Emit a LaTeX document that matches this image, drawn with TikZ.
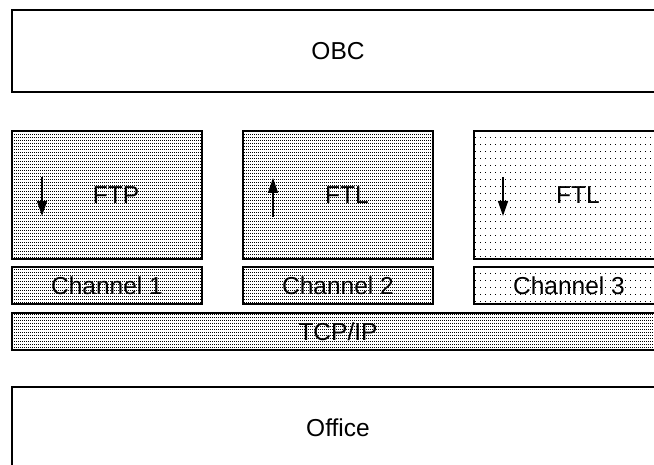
\documentclass[tikz,border=0pt]{standalone}
\usepackage{fontspec}
\setmainfont{Liberation Sans}
\usetikzlibrary{patterns.meta, arrows.meta}

\pgfdeclarepattern{
  name=densedots, type=uncolored,
  bottom left={\pgfpoint{0pt}{0pt}}, top right={\pgfpoint{2pt}{3pt}},
  tile size={\pgfpoint{2pt}{3pt}},
  code={\pgfpathrectangle{\pgfpointorigin}{\pgfpoint{1.2pt}{1.1pt}}\pgfusepath{fill}}}
\pgfdeclarepattern{
  name=sparsedots, type=uncolored,
  bottom left={\pgfpoint{0pt}{0pt}}, top right={\pgfpoint{5pt}{6.5pt}},
  tile size={\pgfpoint{5pt}{6.5pt}},
  code={\pgfpathrectangle{\pgfpointorigin}{\pgfpoint{1pt}{1pt}}\pgfusepath{fill}}}

\begin{document}
\begin{tikzpicture}[x=1pt,y=-1pt]
	\tikzset{block/.style={draw=black, line width=1.4pt, inner sep=0pt, font=\fontsize{24.5}{28}\selectfont}}
	\tikzset{dense/.style={block, pattern=densedots}}
	\tikzset{sparse/.style={block, pattern=sparsedots}}
	\tikzset{flow/.style={-{Triangle[length=15pt,width=10pt]}, line width=1.4pt}}
		\useasboundingbox (0,0) rectangle (654,465);
		\clip (0,0) rectangle (654,465);
		\node[block, minimum width=652pt, minimum height=82pt] (obc) at (338,51) {OBC};
		\foreach \name/\x/\tag in {ftp/107/FTP, ftlup/338/FTL}
		{\node[dense, minimum width=190pt, minimum height=128pt] (\name) at (\x,195) {\hspace*{18pt}\tag};}
		\node[sparse, minimum width=190pt, minimum height=128pt] (ftldown) at (569,195) {\hspace*{18pt}FTL};
		\foreach \name/\x/\tag in {ch1/107/Channel 1, ch2/338/Channel 2}
		{\node[dense, minimum width=190pt, minimum height=37pt] (\name) at (\x,285.5) {\tag};}
		\node[sparse, minimum width=190pt, minimum height=37pt] (ch3) at (569,285.5) {Channel 3};
		\node[dense, minimum width=652pt, minimum height=37pt] (tcp) at (338,331.5) {TCP/IP};
		\node[block, minimum width=652pt, minimum height=82pt] (office) at (338,428) {Office};
		% direction of transfer
		\coordinate (ftp_a) at (42,177);
		\coordinate (ftp_b) at (42,216);
		\coordinate (ftlup_a) at (273,217);
		\coordinate (ftlup_b) at (273,178);
		\coordinate (ftldown_a) at (503,177);
		\coordinate (ftldown_b) at (503,216);
		\draw[flow] (ftp_a) -- (ftp_b);
		\draw[flow] (ftlup_a) -- (ftlup_b);
		\draw[flow] (ftldown_a) -- (ftldown_b);
	\end{tikzpicture}
\end{document}
